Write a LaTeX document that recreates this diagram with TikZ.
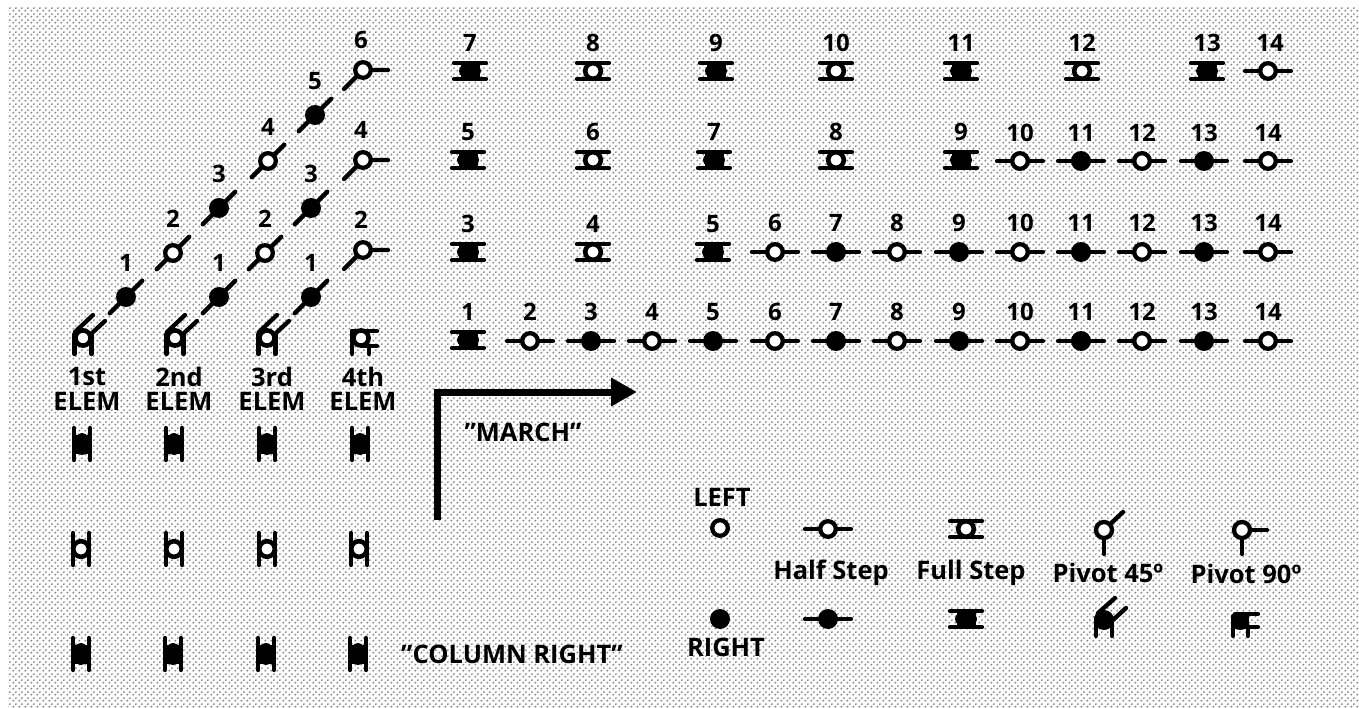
\documentclass[tikz,border=0pt]{standalone}
\usepackage{fontspec}
\setmainfont{Open Sans}
\usetikzlibrary{patterns,arrows.meta}
\pgfdeclarepatternformonly{halftone}{\pgfqpoint{0pt}{0pt}}{\pgfqpoint{6pt}{6pt}}{\pgfqpoint{6pt}{6pt}}{%
  \pgfsetlinewidth{1.3pt}\pgfsetbuttcap
  \pgfpathmoveto{\pgfqpoint{0.8pt}{0.8pt}}\pgfpathlineto{\pgfqpoint{2.2pt}{2.2pt}}
  \pgfpathmoveto{\pgfqpoint{3.8pt}{3.8pt}}\pgfpathlineto{\pgfqpoint{5.2pt}{5.2pt}}
  \pgfusepath{stroke}}
\definecolor{halfgray}{gray}{0.5}
\tikzset{
  x=1pt,y=-1pt,
  ink/.style={line width=4.3pt,line cap=round,draw=black},
  lab/.style={font=\bfseries\fontsize{25.5}{25.5}\selectfont,inner sep=0pt,text=black,align=center},
  num/.style={font=\bfseries\fontsize{24}{24}\selectfont,inner sep=0pt,text=black},
  pics/hs/.style={code={
    \draw[ink] (-23,0)--(23,0);
    \draw[ink,fill=#1] (0,0) circle[radius=7.8];}},
  pics/fsopen/.style={code={
    \draw[ink] (-16,-8)--(16,-8) (-16,8)--(16,8);
    \draw[line width=4.6pt,draw=black,fill=white] (0,0) circle[radius=7.8];}},
  pics/fsfill/.style={code={
    \draw[ink] (-16,-8)--(16,-8) (-16,8)--(16,8);
    \fill[black] (-9.5,-8) rectangle (9.5,8);
    \fill[black] (0,0) ellipse[x radius=11,y radius=8];}},
  pics/pivottick/.style={code={
    \draw[ink] (0,0)--(0,24);
    \draw[ink] (0,0)--(#1);
    \draw[ink,fill=white] (0,0) circle[radius=8];}},
  pics/elemdiag/.style={code={
    \draw[ink] (-8.5,-4)--(-8.5,16) (8.5,-4)--(8.5,16);
    \draw[ink] (-8,-6)--(10,-23) (9,-5)--(22,-17);
    \draw[line width=4.6pt,draw=black,fill=white] (0,0) circle[radius=7.6];}},
  pics/elemside/.style={code={
    \draw[ink] (-9,-7)--(-9,16) (8,8)--(8,16);
    \draw[ink] (-9,-7)--(16,-7) (2,8)--(16,8);
    \draw[line width=4.6pt,draw=black,fill=white] (0,0) circle[radius=7.6];}},
  pics/filldiag/.style={code={
    \draw[ink] (-8,-4)--(-8,14) (8,-4)--(8,14);
    \draw[ink] (-6,-9)--(11,-24) (9,-2)--(22,-14);
    \fill[black] (-10,6) rectangle (10,-2);
    \fill[black] (0,-2) circle[radius=10];}},
  pics/fillside/.style={code={
    \draw[ink] (-8,-6)--(-8,14) (7,4)--(7,14);
    \draw[ink] (-6,-8)--(17,-8) (1,5)--(17,5);
    \fill[black] (-10,-6) rectangle (8,7);
    \fill[black] (-1,-1) circle[radius=9];}},
}
\begin{document}
\begin{tikzpicture}
\useasboundingbox (0,0) rectangle (1359,708);
\fill[pattern=halftone,pattern color=halfgray] (8,8) rectangle (1359,708);

% marching rows: half steps
\foreach \n/\xx/\col in {2/530/white,3/591/black,4/652/white,5/713/black,6/775/white,7/836/black,8/897/white,9/959/black,10/1020/white,11/1081/black,12/1142/white,13/1204/black,14/1268/white}{
  \pic at (\xx,341) {hs=\col};
  \node[num] (rowa\n) at (\xx,312) {\n};}
\foreach \n/\xx/\col in {6/775/white,7/836/black,8/897/white,9/959/black,10/1020/white,11/1081/black,12/1142/white,13/1204/black,14/1268/white}{
  \pic at (\xx,252) {hs=\col};
  \node[num] (rowb\n) at (\xx,223) {\n};}
\foreach \n/\xx/\col in {10/1020/white,11/1081/black,12/1142/white,13/1204/black,14/1268/white}{
  \pic at (\xx,161) {hs=\col};
  \node[num] (rowc\n) at (\xx,133) {\n};}
\pic at (1268,71) {hs=white};
\node[num] (rowd14) at (1270,43) {14};

% marching rows: full steps
\foreach \rowname/\yy/\n/\xx/\kind in {a/340/1/468/fsfill,b/252/3/468/fsfill,b/252/4/593/fsopen,b/252/5/713/fsfill,
  c/160/5/468/fsfill,c/160/6/593/fsopen,c/160/7/714/fsfill,c/160/8/836/fsopen,c/160/9/961/fsfill,
  d/71/7/470/fsfill,d/71/8/593/fsopen,d/71/9/716/fsfill,d/71/10/836/fsopen,d/71/11/961/fsfill,d/71/12/1082/fsopen,d/71/13/1207/fsfill}{
  \pic at (\xx,\yy) {\kind};
  \node[num] (row\rowname\n) at (\xx,\yy-28) {\n};}

% oblique files
\foreach \id/\n/\xx/\yy/\col in {p/1/126/297/black,q/2/173/253/white,r/3/219/208/black,s/4/268/161/white,t/5/315/115/black,
  u/1/219/297/black,v/2/265/253/white,w/3/311/208/black,
  y/1/311/297/black}{
  \pic[rotate=45] at (\xx,\yy) {hs=\col};
  \node[num] (ob\id) at (\xx,\yy-34) {\n};}
\foreach \id/\n/\yy in {a/6/70,b/4/160,c/2/250}{
  \draw[ink] (363,\yy)--(388,\yy) (363,\yy)--(344,\yy+19);
  \draw[ink,fill=white] (363,\yy) circle[radius=7.8];
  \node[num] (end\id) at (361,\yy-30) {\n};}

% elements
\pic at (83,338) {elemdiag};
\pic at (175,338) {elemdiag};
\pic at (267,338) {elemdiag};
\pic at (361,338) {elemside};
\foreach \id/\xx/\txt in {a/87/1st,b/179/2nd,c/272/3rd,d/363/4th}{
  \node[lab] (elem\id) at (\xx,389) {\txt\\[-1pt]ELEM};}

% column right block
\foreach \xx in {82,174,267,360}{\pic[rotate=90] at (\xx,444) {fsfill};}
\foreach \xx in {81,174,267,359}{\pic[rotate=90] at (\xx,549) {fsopen};}
\foreach \xx in {81,173,266,358}{\pic[rotate=90] at (\xx,654) {fsfill};}
\node[lab] (colright) at (512,654) {”COLUMN RIGHT”};

% march arrow
\coordinate (arrowfoot) at (437,520);
\coordinate (arrowbend) at (437,392);
\coordinate (arrowtip) at (637,392);
\draw[line width=7pt,-{Triangle[length=26pt,width=27pt]}] (arrowfoot)--(arrowbend)--(arrowtip);
\node[lab] (march) at (523,432) {”MARCH”};

% legend
\node[lab] (lleft) at (722,497) {LEFT};
\draw[ink,fill=white] (720,528) circle[radius=7.8];
\pic at (828,529) {hs=white};
\pic at (966,529) {fsopen};
\pic at (1104,530) {pivottick={19,-18}};
\pic at (1242,530) {pivottick={25,0}};
\node[lab] (lhalf) at (831,573) {Half Step};
\node[lab] (lfull) at (971,573) {Full Step};
\node[lab] (lp45) at (1108,573) {Pivot 45º};
\node[lab] (lp90) at (1246,574) {Pivot 90º};
\fill[black] (720,619) circle[radius=10];
\pic at (828,619) {hs=black};
\pic at (966,619) {fsfill};
\pic at (1104,622) {filldiag};
\pic at (1241,622) {fillside};
\node[lab] (lright) at (726,647) {RIGHT};
\end{tikzpicture}
\end{document}
